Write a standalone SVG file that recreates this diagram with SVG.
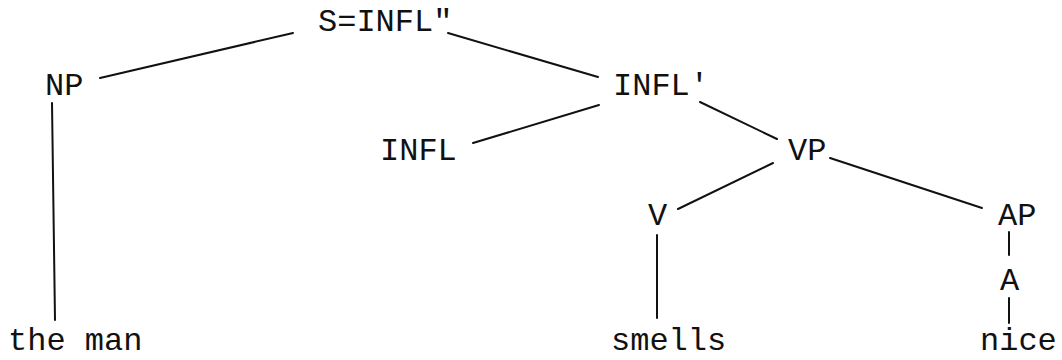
<svg xmlns="http://www.w3.org/2000/svg" width="1062" height="360" viewBox="0 0 1062 360">
<style>
text{font-family:"Liberation Mono","Courier New",monospace;font-size:32px;fill:#111}
.e line{stroke:#111;stroke-width:2;stroke-linecap:round}
</style>
<rect width="1062" height="360" fill="#fff"/>
<g class="e" id="connectors">
<line x1="100" y1="78" x2="293" y2="33"/>
<line x1="448" y1="33" x2="598" y2="77"/>
<line x1="473" y1="143" x2="599" y2="105"/>
<line x1="700" y1="102" x2="777" y2="139"/>
<line x1="773" y1="163" x2="678" y2="209"/>
<line x1="830" y1="158" x2="982" y2="208"/>
<line x1="52" y1="103" x2="55" y2="320"/>
<line x1="657" y1="235" x2="657" y2="318"/>
<line x1="1009" y1="232" x2="1009" y2="255"/>
<line x1="1009" y1="298" x2="1009" y2="323"/>
</g>
<g id="S"><text x="318" y="31">S=INFL"</text></g>
<g id="NP"><text x="45" y="95">NP</text></g>
<g id="INFLbar"><text x="613" y="95">INFL'</text></g>
<g id="INFL"><text x="380" y="160">INFL</text></g>
<g id="VP"><text x="788" y="160">VP</text></g>
<g id="V"><text x="648" y="225">V</text></g>
<g id="AP"><text x="998" y="225">AP</text></g>
<g id="A"><text x="1000" y="290">A</text></g>
<g id="theman"><text x="8" y="350">the man</text></g>
<g id="smells"><text x="611" y="350">smells</text></g>
<g id="nice"><text x="980" y="350">nice</text></g>
</svg>
